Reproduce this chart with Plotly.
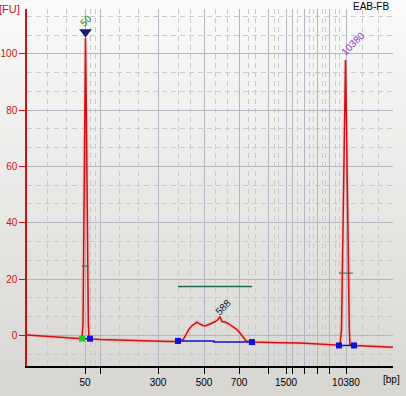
import plotly.graph_objects as go

# migration time (s) and fluorescence (FU)
time_s = [40.0, 41.6, 43.6, 45.6, 47.6, 49.6, 51.0, 51.2, 51.4, 51.6, 51.7, 51.9, 52.1, 52.26, 52.4,
          53.0, 54.6, 57.6, 60.6, 63.6, 66.6, 68.6, 70.2, 71.2, 71.8, 72.4, 73.0, 73.6, 74.0, 74.6,
          75.2, 75.8, 76.4, 77.0, 77.6, 78.2, 78.6, 79.0, 79.6, 80.2, 80.8, 81.4, 82.0, 82.6, 83.2,
          83.8, 85.0, 87.6, 90.6, 94.6, 98.6, 101.6, 102.6, 102.9, 103.1, 103.4, 103.7, 103.9, 104.2,
          104.46, 104.6, 105.4, 107.6, 110.6, 113.2]
fu = [0.1, -0.1, -0.3, -0.6, -0.8, -1.0, -1.2, 4.0, 62.0, 100.0, 105.6, 75.0, 30.0, 4.5, -1.0,
      -1.3, -1.5, -1.7, -1.8, -2.0, -2.1, -2.2, -2.2, -1.6, 0.2, 2.2, 3.4, 4.0, 4.7, 4.0,
      3.5, 3.4, 3.9, 4.4, 4.8, 5.6, 6.6, 4.9, 4.7, 4.2, 3.4, 2.8, 2.0, 0.8, -0.6,
      -2.0, -2.4, -2.4, -2.6, -2.7, -3.1, -3.4, -3.5, 2.0, 30.0, 70.0, 97.8, 75.0, 30.0,
      2.0, -3.3, -3.6, -3.8, -4.0, -4.2]

# ladder positions (s) and bp labels
ladder_time = [51.6, 54.6, 66.2, 75.4, 82.4, 88.2, 91.8, 93.0, 95.4, 98.0, 100.4, 103.8]
ladder_text = ["50", "", "300", "500", "700", "", "1500", "", "", "", "", "10380"]
minor_time = [44.0, 47.8, 52.6, 53.6, 58.4, 62.2, 70.2, 72.6, 77.6, 80.0, 84.2, 85.6, 89.4, 90.2,
              94.0, 96.4, 97.2, 99.0, 99.6, 101.6, 102.4, 107.0, 110.2]

# peak / region info
peak_names = ["50", "588", "10380"]
peak_time = [51.8, 79.2, 105.2]
peak_label_fu = [111.8, 9.8, 103.6]
peak_colors = ["#1a8a1a", "#111111", "#9933cc"]
lower_marker_time = [51.7]
lower_marker_fu = [107.7]
base1_t = [51.0, 52.6]
base1_fu = [-1.2, -1.2]
base2_t = [70.2, 77.4, 77.4, 85.0]
base2_fu = [-2.0, -2.0, -2.4, -2.4]
base3_t = [102.4, 105.4]
base3_fu = [-3.6, -3.6]
half1_t = [51.0, 52.4]
half1_fu = [24.6, 24.6]
half3_t = [102.4, 105.2]
half3_fu = [22.1, 22.1]
region_t = [70.2, 85.0]
region_fu = [17.3, 17.3]

fig = go.Figure()

# gradient background
n = 40
shapes = []
for i in range(n):
    f = i / (n - 1)
    r = int(250 - f * 34); g = int(250 - f * 35); b = int(250 - f * 40)
    y0 = 1 + 9 / 357 - (i) * (396 / 357) / n
    y1 = y0 - (396 / 357) / n - 0.002
    shapes.append(dict(type="rect", xref="paper", yref="paper", x0=-27 / 366, x1=1 + 13 / 366,
                       y0=y1, y1=y0, fillcolor=f"rgb({r},{g},{b})", line=dict(width=0), layer="below"))

fig.add_trace(go.Scatter(x=time_s, y=fu, mode="lines", line=dict(color="rgba(255,120,120,0.2)", width=4),
                         hoverinfo="skip"))
fig.add_trace(go.Scatter(x=time_s, y=fu, mode="lines", line=dict(color="#d01010", width=1.5)))
for bt, bf in [(base1_t, base1_fu), (base2_t, base2_fu), (base3_t, base3_fu)]:
    fig.add_trace(go.Scatter(x=bt, y=bf, mode="lines", line=dict(color="#1010cc", width=1.5)))
fig.add_trace(go.Scatter(x=[base1_t[0]], y=[base1_fu[0]], mode="markers",
                         marker=dict(symbol="square", size=6, color="#22cc22")))
fig.add_trace(go.Scatter(x=[base1_t[1], base2_t[0], base2_t[-1], base3_t[0], base3_t[1]],
                         y=[base1_fu[1], base2_fu[0], base2_fu[-1], base3_fu[0], base3_fu[1]],
                         mode="markers", marker=dict(symbol="square", size=6, color="#1010dd")))
for ht, hf in [(half1_t, half1_fu), (half3_t, half3_fu)]:
    fig.add_trace(go.Scatter(x=ht, y=hf, mode="lines", line=dict(color="#2e6b4e", width=1)))
fig.add_trace(go.Scatter(x=region_t, y=region_fu, mode="lines", line=dict(color="#1e6b50", width=1.5)))
fig.add_trace(go.Scatter(x=lower_marker_time, y=lower_marker_fu, mode="markers",
                         marker=dict(symbol="triangle-down", size=11, color="#1a1a6e")))

font = "Liberation Sans, Arial, sans-serif"
annotations = []
for name, t, y, c in zip(peak_names, peak_time, peak_label_fu, peak_colors):
    annotations.append(dict(x=t, y=y, text=name, showarrow=False, textangle=-45,
                            font=dict(family=font, size=10, color=c), xanchor="center", yanchor="middle"))
annotations += [
    dict(xref="paper", yref="paper", x=-0.049, y=1.0, text="[FU]", showarrow=False,
         font=dict(family=font, size=11, color="#cc1111"), xanchor="center", yanchor="middle"),
    dict(xref="paper", yref="paper", x=0.94, y=1.008, text="EAB-FB", showarrow=False,
         font=dict(family=font, size=10, color="#000000"), xanchor="center", yanchor="middle"),
    dict(xref="paper", yref="paper", x=0.997, y=-0.039, text="[bp]", showarrow=False,
         font=dict(family=font, size=10, color="#000000"), xanchor="center", yanchor="middle"),
]

fig.update_layout(
    width=406, height=396, margin=dict(l=27, r=13, t=9, b=30),
    paper_bgcolor="#ebeae7", plot_bgcolor="rgba(0,0,0,0)",
    showlegend=False, shapes=shapes, annotations=annotations,
    font=dict(family=font, size=10),
)
fig.update_xaxes(
    range=[40.0, 113.2], tickmode="array", tickvals=ladder_time, ticktext=ladder_text, automargin=False,
    showgrid=True, gridcolor="#b2b8c2", gridwidth=1, zeroline=False,
    showline=True, linecolor="#000000", linewidth=1.5, ticks="outside", ticklen=6, tickcolor="#000000",
    tickfont=dict(family=font, size=10, color="#000000"),
    minor=dict(tickmode="array", tickvals=minor_time, showgrid=True, gridcolor="#cacaca",
               griddash="5px,4px", gridwidth=1, ticks=""),
)
fig.update_yaxes(
    range=[-10.9, 115.9], tickmode="array", tickvals=[0, 20, 40, 60, 80, 100], automargin=False,
    showgrid=True, gridcolor="#b2b8c2", gridwidth=1, zeroline=False,
    showline=True, linecolor="#cc1111", linewidth=1.5, ticks="outside", ticklen=6, tickcolor="#cc1111",
    tickfont=dict(family=font, size=10, color="#cc1111"),
    minor=dict(tick0=0, dtick=20 / 3, showgrid=True, gridcolor="#cacaca", griddash="5px,4px",
               gridwidth=1, ticks=""),
)

fig.write_html("out.html")
